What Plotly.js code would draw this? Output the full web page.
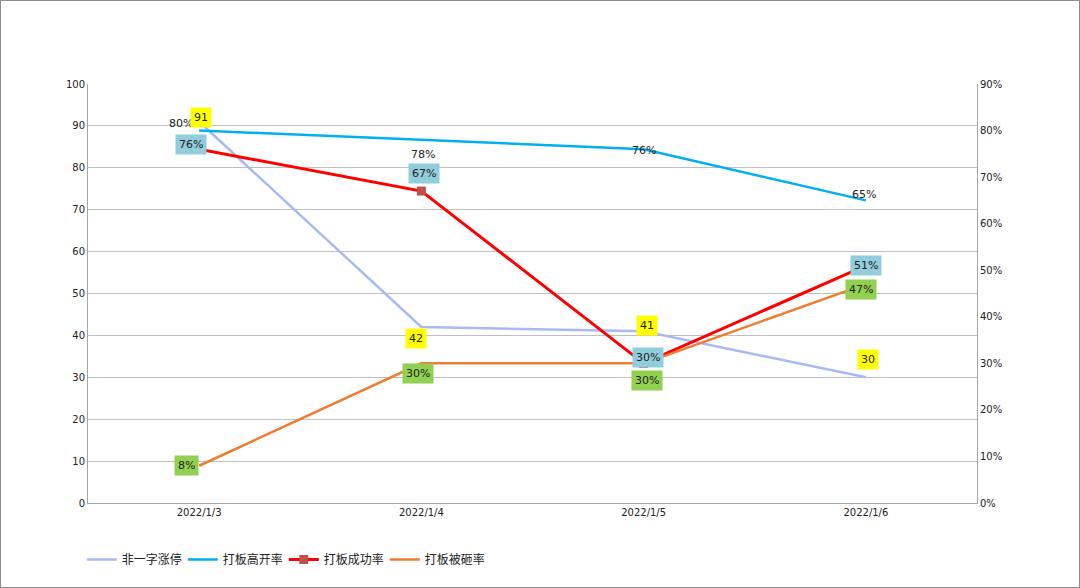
<!DOCTYPE html>
<html>
<head>
<meta charset="utf-8">
<script src="https://cdn.plot.ly/plotly-3.0.1.min.js"></script>
<style>
html,body{margin:0;padding:0;background:#fff;}
#chart{width:1078px;height:586px;border:1px solid #8c8c8c;}
</style>
</head>
<body>
<div id="chart"></div>
<script>
// ---- data ----
var categories = ["2022/1/3", "2022/1/4", "2022/1/5", "2022/1/6"];
var seriesNames = ["非一字涨停", "打板高开率", "打板成功率", "打板被砸率"];
var limitUpCount = [91, 42, 41, 30];          // 非一字涨停 (left axis)
var highOpenRate = [0.80, 0.78, 0.76, 0.65];  // 打板高开率 (right axis)
var successRate = [0.76, 0.67, 0.30, 0.51];   // 打板成功率 (right axis)
var brokenRate = [0.08, 0.30, 0.30, 0.47];    // 打板被砸率 (right axis)

// ---- label offsets (pixels, style only) ----
var offCount = [[2, 4], [-5, -11], [3, 6], [2, 18]];
var offHigh = [[-18, 7], [2, -15], [0, -1], [-2, 6]];
var offSucc = [[-8, 5], [3, 18], [4, 6], [0, 0]];
var offBroken = [[-13, 0], [-3, -10], [3, -17], [-5, -5]];

var colors = ["#a9b9f4", "#00b0f0", "#ff0000", "#ed7d31"];

var traces = [
  {x: categories, y: limitUpCount, name: seriesNames[0], type: "scatter", mode: "lines",
   line: {color: colors[0], width: 2.5}, yaxis: "y"},
  {x: categories, y: highOpenRate, name: seriesNames[1], type: "scatter", mode: "lines",
   line: {color: colors[1], width: 2.5}, yaxis: "y2"},
  {x: categories, y: successRate, name: seriesNames[2], type: "scatter", mode: "lines+markers",
   line: {color: colors[2], width: 3}, marker: {symbol: "square", size: 9, color: "#c0504d"}, yaxis: "y2"},
  {x: categories, y: brokenRate, name: seriesNames[3], type: "scatter", mode: "lines",
   line: {color: colors[3], width: 2.5}, yaxis: "y2"}
];

var annotations = [];
function addLabels(vals, yref, offs, fmt, bg) {
  vals.forEach(function (v, i) {
    var a = {
      x: categories[i], y: v, xref: "x", yref: yref,
      text: fmt(v), showarrow: false,
      xshift: offs[i][0], yshift: offs[i][1],
      font: {family: "DejaVu Sans, sans-serif", size: 11, color: "#222"},
      borderpad: 3
    };
    if (bg) { a.bgcolor = bg; }
    annotations.push(a);
  });
}
var pct = function (v) { return Math.round(v * 100) + "%"; };
var num = function (v) { return String(v); };
addLabels(highOpenRate, "y2", offHigh, pct, null);
addLabels(brokenRate, "y2", offBroken, pct, "#92d050");
addLabels(successRate, "y2", offSucc, pct, "#92cddc");
addLabels(limitUpCount, "y", offCount, num, "#ffff00");

var tickFont = {family: "DejaVu Sans, sans-serif", size: 10, color: "#222"};

var layout = {
  width: 1078, height: 586,
  margin: {l: 87, r: 102, t: 83, b: 84},
  paper_bgcolor: "#ffffff", plot_bgcolor: "#ffffff",
  showlegend: true,
  legend: {orientation: "h", x: -0.007, xanchor: "left", y: -0.135, yanchor: "middle",
           font: {family: "Noto Sans CJK SC, sans-serif", size: 12, color: "#222"},
           itemwidth: 30, traceorder: "normal", entrywidth: 56},
  xaxis: {type: "category", range: [-0.5, 3.5], showgrid: false, zeroline: false,
          showline: true, linecolor: "#a6a6a6", linewidth: 1, ticks: "",
          tickfont: tickFont, fixedrange: true},
  yaxis: {range: [0, 100], dtick: 10, tick0: 0, showgrid: true, gridcolor: "#bfbfbf", gridwidth: 1,
          zeroline: false, showline: true, linecolor: "#a6a6a6", ticks: "", tickfont: tickFont},
  yaxis2: {range: [0, 0.9], dtick: 0.1, tick0: 0, tickformat: ".0%", overlaying: "y", side: "right",
           showgrid: false, zeroline: false, showline: true, linecolor: "#a6a6a6", ticks: "", tickfont: tickFont},
  annotations: annotations
};

Plotly.newPlot("chart", traces, layout, {displayModeBar: false, staticPlot: true});
</script>
</body>
</html>
